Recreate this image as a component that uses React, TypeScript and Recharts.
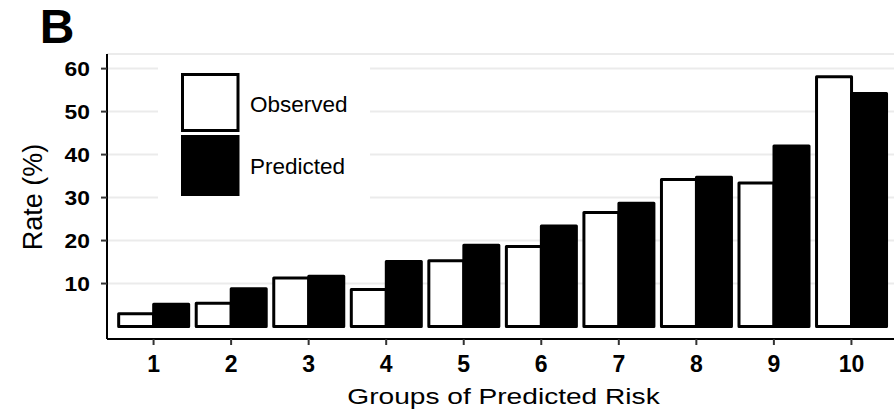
import React from 'react';
import { BarChart, Bar, XAxis, YAxis, CartesianGrid, Legend } from 'recharts';

// Observed vs. predicted event rate (%) by decile of predicted risk
const groups = ['1', '2', '3', '4', '5', '6', '7', '8', '9', '10'];
const observed = [3.0, 5.4, 11.3, 8.6, 15.3, 18.6, 26.5, 34.2, 33.4, 58.1];
const predicted = [5.2, 8.8, 11.7, 15.1, 18.9, 23.4, 28.7, 34.7, 42.0, 54.2];
const yTicks = [10, 20, 30, 40, 50, 60];
const seriesNames = ['Observed', 'Predicted'];
const panelLabel = 'B';
const xTitle = 'Groups of Predicted Risk';
const yTitle = 'Rate (%)';

const data = groups.map((g, i) => ({ group: g, observed: observed[i], predicted: predicted[i] }));

const FONT = '"Liberation Sans", Arial, Helvetica, sans-serif';

const XTick = (props: any) => {
  const { x, y, payload } = props;
  return (
    <text x={x} y={y + 24.5} textAnchor="middle" fontFamily={FONT} fontWeight="bold" fontSize={23} fill="#000">
      {payload.value}
    </text>
  );
};

const YTick = (props: any) => {
  const { x, y, payload } = props;
  return (
    <g transform={`translate(${x - 9},${y + 7.2}) scale(1.17,1)`}>
      <text x={0} y={0} textAnchor="end" fontFamily={FONT} fontWeight="bold" fontSize={19.5} fill="#000">
        {payload.value}
      </text>
    </g>
  );
};

const XTitle = (props: any) => {
  const vb = props.viewBox || { x: 107, y: 339, width: 791, height: 75 };
  const cx = vb.x + vb.width / 2 + 1;
  return (
    <g transform={`translate(${cx},${vb.y + 65}) scale(1.25,1)`}>
      <text x={0} y={0} textAnchor="middle" fontFamily={FONT} fontSize={22.5} fill="#000">
        {xTitle}
      </text>
    </g>
  );
};

const YTitle = (props: any) => {
  const vb = props.viewBox || { x: 0, y: 54, width: 107, height: 285 };
  const cy = vb.y + vb.height / 2 + 0.5;
  return (
    <text
      transform={`translate(${vb.x + 41.5},${cy}) rotate(-90)`}
      textAnchor="middle"
      fontFamily={FONT}
      fontSize={27}
      fill="#000"
    >
      {yTitle}
    </text>
  );
};

const LegendBox = (props: any) => {
  const payload = props.payload && props.payload.length ? props.payload : seriesNames.map((v) => ({ value: v }));
  const keys = [
    { y: 14.5, h: 56, fill: '#fff' },
    { y: 76.5, h: 58, fill: '#000' },
  ];
  return (
    <svg width={212} height={146} style={{ display: 'block' }}>
      <rect x={0} y={0} width={212} height={146} fill="#fff" />
      {payload.map((entry: any, i: number) => (
        <g key={entry.value}>
          <rect
            x={24.5}
            y={keys[i].y}
            width={55.5}
            height={keys[i].h}
            fill={keys[i].fill}
            stroke="#000"
            strokeWidth={3}
          />
          <text x={92} y={i === 0 ? 51.5 : 113.5} fontFamily={FONT} fontSize={22.5} fill="#000">
            {entry.value}
          </text>
        </g>
      ))}
    </svg>
  );
};

export default function App() {
  return (
    <div
      style={{
        position: 'fixed',
        left: 0,
        top: 0,
        width: 894,
        height: 414,
        overflow: 'hidden',
        background: '#fff',
      }}
    >
      <BarChart
        width={900}
        height={414}
        data={data}
        margin={{ top: 54, right: 2, bottom: 0, left: 0 }}
        barCategoryGap="5%"
        barGap={0}
      >
        <CartesianGrid vertical={false} stroke="#ebebeb" strokeWidth={2} />
        <XAxis
          dataKey="group"
          type="category"
          interval={0}
          padding={{ left: 7.8, right: 7.8 }}
          height={75}
          tickSize={6}
          tickLine={{ stroke: '#333', strokeWidth: 2 }}
          axisLine={{ stroke: '#000', strokeWidth: 2 }}
          tick={<XTick />}
          label={<XTitle />}
        />
        <YAxis
          type="number"
          domain={[-2.9, 63.4]}
          ticks={yTicks}
          allowDataOverflow
          width={107}
          tickSize={6}
          tickLine={{ stroke: '#333', strokeWidth: 2 }}
          axisLine={{ stroke: '#000', strokeWidth: 2 }}
          tick={<YTick />}
          label={<YTitle />}
        />
        <Legend
          layout="vertical"
          align="center"
          verticalAlign="middle"
          content={<LegendBox />}
          wrapperStyle={{ left: 158, top: 60, width: 212, height: 146 }}
        />
        <Bar
          dataKey="observed"
          name={seriesNames[0]}
          fill="#fff"
          stroke="#000"
          strokeWidth={3}
          strokeLinejoin="round"
          isAnimationActive={false}
        />
        <Bar
          dataKey="predicted"
          name={seriesNames[1]}
          fill="#000"
          stroke="#000"
          strokeWidth={3}
          strokeLinejoin="round"
          isAnimationActive={false}
        />
      </BarChart>
      <svg
        width={120}
        height={60}
        style={{ position: 'absolute', left: 0, top: 0, pointerEvents: 'none' }}
      >
        <text x={39.8} y={42.5} fontFamily={FONT} fontWeight="bold" fontSize={48} fill="#000">
          {panelLabel}
        </text>
      </svg>
    </div>
  );
}
